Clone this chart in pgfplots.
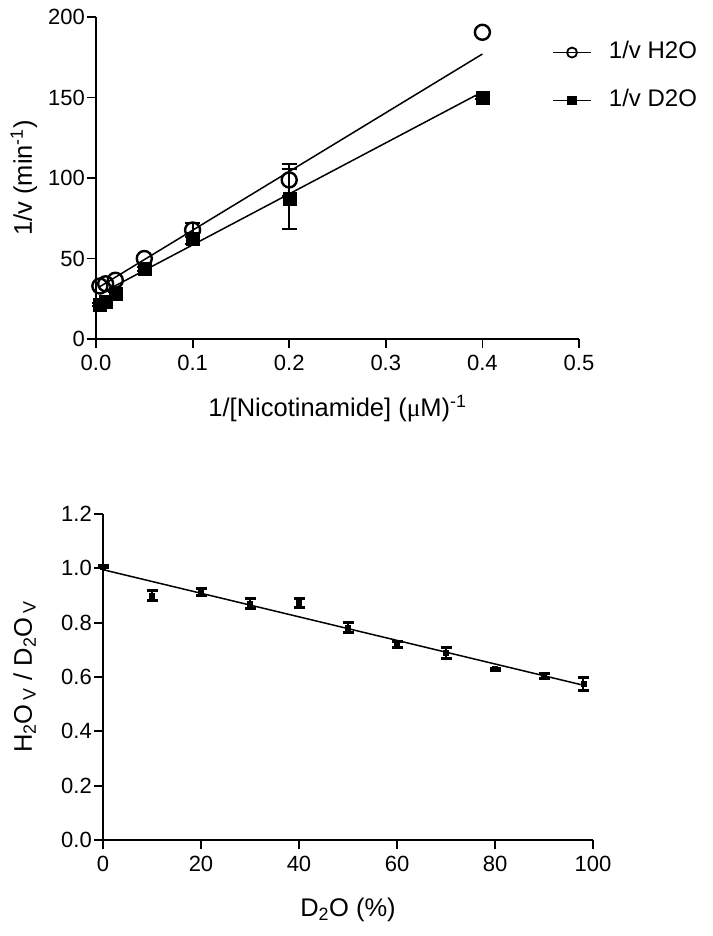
\documentclass[border=0pt]{standalone}
\usepackage{fontspec}
\setmainfont{Liberation Sans}
\newfontfamily\mufont{Liberation Serif}
\usepackage{pgfplots}
\pgfplotsset{compat=1.18}

\pgfplotsset{
  prism/.style={
    scale only axis,
    axis lines=left,
    axis line style={-, line width=1.8pt},
    tick align=outside,
    major tick length=9pt,
    every tick/.style={black, line width=1.8pt},
    /pgf/number format/assume math mode=true,
    xticklabel style={inner sep=0pt, font=\fontsize{22}{26}\selectfont, yshift=-7pt},
    yticklabel style={inner sep=0pt, font=\fontsize{22}{26}\selectfont, xshift=-2pt},
    label style={font=\fontsize{25.5}{30}\selectfont},
    clip=false,
  },
  legend image code/.code={
    \draw[mark repeat=2,mark phase=2,#1] plot coordinates {(0pt,0pt) (19pt,0pt) (38pt,0pt)};
  },
}

\begin{document}
\begin{tikzpicture}
\path[use as bounding box] (0,0) rectangle (712pt,936pt);

% top: double reciprocal plot
\begin{axis}[prism,
  at={(96pt,597pt)}, anchor=south west,
  width=483pt, height=322pt,
  xmin=0, xmax=0.5, ymin=0, ymax=200,
  xtick={0,0.1,...,0.5}, ytick={0,50,...,200},
  xticklabel style={/pgf/number format/.cd, fixed, fixed zerofill, precision=1},
  xlabel={1/[Nicotinamide] ({\mufont μ}M)\textsuperscript{-1}},
  ylabel={1/v (min\textsuperscript{-1})},
  xlabel style={at={(axis description cs:0.5,-0.242)}, anchor=base},
  ylabel style={at={(axis description cs:-0.1325,0.5)}, anchor=base, rotate=0},
  legend style={at={(rel axis cs:0.944,0.815)}, anchor=west, draw=none, fill=none,
    inner sep=0pt, row sep=26pt, column sep=17pt,
    nodes={inner sep=0pt, text height=17pt, text depth=5pt},
    font=\fontsize{24}{28}\selectfont},
  legend cell align=left,
]
\addlegendimage{black, line width=1.8pt, mark=o, mark size=5pt, mark options={line width=1.8pt}}
\addlegendentry{1/v H2O}
\addlegendimage{black, line width=1.8pt, mark=square*, mark size=4pt}
\addlegendentry{1/v D2O}

% fitted lines
\addplot[black, line width=1.5pt, forget plot] coordinates {(0.004,32.5) (0.4,177)};
\addplot[black, line width=1.5pt, forget plot] coordinates {(0.004,28) (0.4,153.5)};

% H2O error bars (only those visible outside the marks)
\addplot[black, draw=none, forget plot,
  error bars/.cd, y dir=both, y explicit,
  error bar style={line width=2pt}, error mark options={rotate=90, mark size=7.5pt, line width=2pt}]
  coordinates {
  (0.1,67.7) +- (0,4.6)
  (0.2,98.8) +- (0,10)
};
% D2O
\addplot[black, only marks, mark=square*, mark size=6.5pt, forget plot,
  error bars/.cd, y dir=both, y explicit,
  error bar style={line width=2pt}, error mark options={rotate=90, mark size=7.5pt, line width=2pt}]
  coordinates {
  (0.004,21.3) +- (0,1)
  (0.01,23) +- (0,1)
  (0.02,28) +- (0,1)
  (0.05,43.5) +- (0,1.5)
  (0.1,62) +- (0,3)
  (0.2,87) +- (0,18.7)
  (0.4,150) +- (0,1)
};
% H2O
\addplot[black, only marks, mark=o, mark size=7.5pt, line width=2.4pt, forget plot]
  coordinates {
  (0.004,32.9)
  (0.01,34.3)
  (0.02,36.5)
  (0.05,50)
  (0.1,67.7)
  (0.2,98.8)
  (0.4,190.5)
};
\end{axis}

% bottom: H2O/D2O ratio vs D2O percentage
\begin{axis}[prism,
  at={(103pt,96pt)}, anchor=south west,
  width=490pt, height=326pt,
  xmin=0, xmax=100, ymin=0, ymax=1.2,
  xtick={0,20,...,100}, ytick={0,0.2,...,1.2},
  yticklabel style={/pgf/number format/.cd, fixed, fixed zerofill, precision=1},
  xlabel={D\textsubscript{2}O (\%)},
  ylabel={H\textsubscript{2}O\,\textsubscript{V} / D\textsubscript{2}O\,\textsubscript{V}},
  xlabel style={at={(axis description cs:0.5,-0.236)}, anchor=base},
  ylabel style={at={(axis description cs:-0.1449,0.5)}, anchor=base, rotate=0},
]
\addplot[black, line width=1.5pt] coordinates {(0,0.995) (97.5,0.572)};
\addplot[black, only marks, mark=square*, mark size=2.5pt,
  error bars/.cd, y dir=both, y explicit,
  error bar style={line width=2.5pt}, error mark options={rotate=90, mark size=5.5pt, line width=3pt}]
  coordinates {
  (0,1.006) +- (0,0.003)
  (10,0.900) +- (0,0.020)
  (20,0.912) +- (0,0.012)
  (30,0.870) +- (0,0.018)
  (40,0.872) +- (0,0.017)
  (50,0.782) +- (0,0.019)
  (60,0.720) +- (0,0.010)
  (70,0.689) +- (0,0.020)
  (80,0.629) +- (0,0.004)
  (90,0.604) +- (0,0.010)
  (98,0.575) +- (0,0.023)
};
\end{axis}
\end{tikzpicture}
\end{document}
